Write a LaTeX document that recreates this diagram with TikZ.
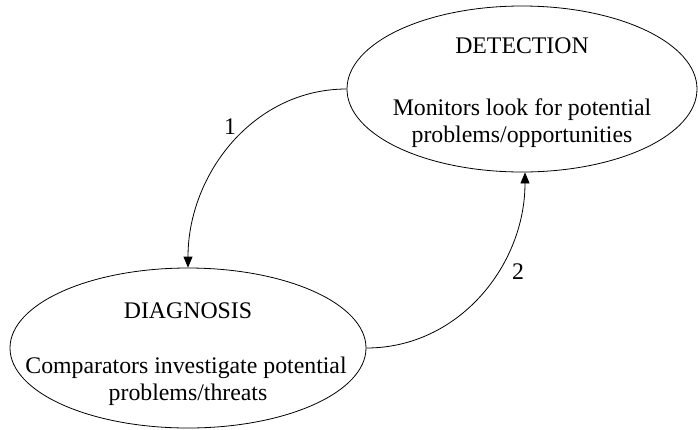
\documentclass[tikz,border=0pt]{standalone}
\usepackage{fontspec}
\setmainfont{Liberation Serif}
\usetikzlibrary{shapes.geometric,arrows.meta}
\begin{document}
\begin{tikzpicture}[x=1pt,y=-1pt,
  stage/.style={draw=black,line width=0.8pt,ellipse,inner sep=0pt},
  txt/.style={anchor=base,inner sep=0pt,font=\fontsize{23.8}{28}\selectfont},
  flow/.style={draw=black,line width=0.8pt,-{Triangle[length=11pt,width=9pt]}},
  num/.style={inner sep=0pt,font=\fontsize{23.8}{28}\selectfont}]
\useasboundingbox (0,0) rectangle (698,429);
% the two stages
\node[stage,minimum width=350pt,minimum height=166pt] (det) at (522,89) {};
\node[stage,minimum width=356pt,minimum height=160pt] (diag) at (188,348) {};
% stage texts
\node[txt] (detT) at (522,53) {DETECTION};
\node[txt] (detA) at (522,115) {Monitors look for potential};
\node[txt] (detB) at (522,142) {problems/opportunities};
\node[txt] (diaT) at (188,318) {DIAGNOSIS};
\node[txt] (diaA) at (186,373) {Comparators investigate potential};
\node[txt] (diaB) at (188,400) {problems/threats};
% transitions between the stages
\draw[flow] (det.west) to[out=180,in=90] (diag.north);
\draw[flow] (diag.east) to[out=0,in=-90] ([xshift=3pt]det.south);
\node[num] (n1) at (230,127) {1};
\node[num] (n2) at (518,272) {2};
\end{tikzpicture}
\end{document}
